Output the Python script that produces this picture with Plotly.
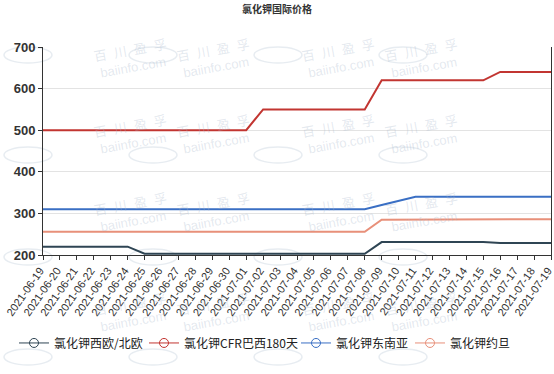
import plotly.graph_objects as go
import pandas as pd

dates = [d.strftime("%Y-%m-%d") for d in pd.date_range("2021-06-19", "2021-07-19")]

names = ["氯化钾西欧/北欧", "氯化钾CFR巴西180天", "氯化钾东南亚", "氯化钾约旦"]
colors = ["#2f4554", "#c23531", "#3a6fc4", "#e8907a"]

west_europe = [220]*6 + [203]*14 + [231]*7 + [229]*4
brazil = [500]*13 + [550]*7 + [620]*7 + [640]*4
se_asia = [310]*20 + [320, 330] + [340]*9
jordan = [256]*20 + [285]*7 + [286]*4

series = [west_europe, brazil, se_asia, jordan]
legend_ids = ["legend", "legend2", "legend3", "legend4"]
legend_x_px = [14, 144, 296, 410]

W, H = 554, 374

fig = go.Figure()

# faint watermark
wm_cols = [90, 215, 340, 465]
wm_rows = [35, 135, 237, 337]
wm_color = "rgba(170,185,205,0.32)"
for cy in wm_rows:
    for cx in wm_cols:
        fig.add_annotation(xref="paper", yref="paper", x=(cx - 43) / (W - 46), y=(255 - cy) / 208,
                           text="百  川  盈  孚<br>baiinfo.com", showarrow=False, textangle=-10,
                           font=dict(size=13, color=wm_color, family="Liberation Sans, Noto Sans CJK SC"))
        ex, ey = cx - 62, cy + 20
        fig.add_shape(type="circle", xref="paper", yref="paper",
                      x0=(ex - 24 - 43) / (W - 46), x1=(ex + 24 - 43) / (W - 46),
                      y0=(255 - ey - 8) / 208, y1=(255 - ey + 8) / 208,
                      line=dict(color="rgba(170,185,205,0.28)", width=1.5), layer="below")

for name, color, vals in zip(names, colors, series):
    fig.add_trace(go.Scatter(x=dates, y=vals, mode="lines", name=name,
                             line=dict(color=color, width=2), showlegend=False,
                             legendgroup=name))
for name, color, lid in zip(names, colors, legend_ids):
    fig.add_trace(go.Scatter(x=[None], y=[None], mode="lines+markers", name=name,
                             line=dict(color=color, width=1), legend=lid,
                             marker=dict(symbol="circle-open", size=9, color=color, line=dict(width=1)),
                             legendgroup=name))

legend_common = dict(orientation="h", xref="container", yref="container", xanchor="left",
                     y=0.083, yanchor="middle", font=dict(size=12, color="#222"),
                     itemwidth=30, bgcolor="rgba(0,0,0,0)")
layout_legends = {}
for lid, lx in zip(legend_ids, legend_x_px):
    layout_legends[lid] = dict(legend_common, x=lx / W)

fig.update_layout(
    width=W, height=H,
    margin=dict(l=43, r=3, t=47, b=119),
    paper_bgcolor="white", plot_bgcolor="rgba(0,0,0,0)",
    font=dict(family="Noto Sans CJK SC, sans-serif", color="#333"),
    title=dict(text="<b>氯化钾国际价格</b>", x=0.5, xanchor="center", y=0.985, yanchor="top",
               font=dict(size=10, color="#333")),
    showlegend=True,
    **layout_legends,
)
fig.update_xaxes(type="category", range=[0, 30], tickangle=-55, showgrid=False, automargin=False,
                 showline=True, linecolor="#333", linewidth=1, ticks="outside", ticklen=4,
                 ticklabelshift=-3,
                 tickcolor="#333", tickfont=dict(size=11, color="#333", family="Liberation Sans, Arial, sans-serif"))
fig.update_yaxes(range=[200, 700], dtick=100, showgrid=True, gridcolor="#e3e3e3", gridwidth=1,
                 showline=True, mirror=True, linecolor="#333", linewidth=1, ticks="outside",
                 ticklen=4, tickcolor="#333", zeroline=False, automargin=False,
                 tickfont=dict(size=13, color="#333", weight="bold", family="Liberation Sans, Arial, sans-serif"))

fig.write_html("out.html")
